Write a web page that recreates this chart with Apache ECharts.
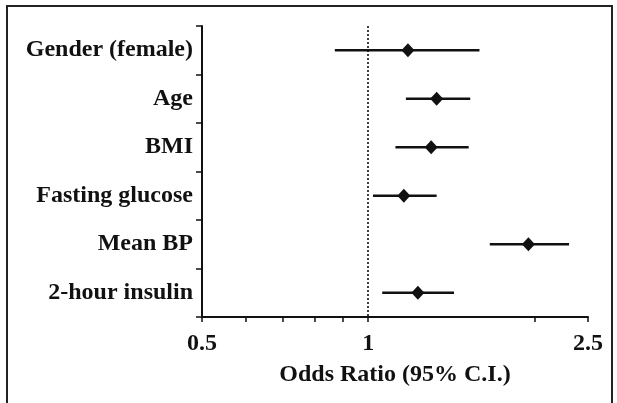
<!DOCTYPE html>
<html>
<head>
<meta charset="utf-8">
<script src="https://cdn.jsdelivr.net/npm/echarts@6/dist/echarts.min.js"></script>
<style>
  html, body { margin: 0; padding: 0; background: #fff; }
  #chart { width: 617px; height: 403px; }
</style>
</head>
<body>
<div id="chart"></div>
<script>
// 变量名称（从上到下）
var factors = ['Gender (female)', 'Age', 'BMI', 'Fasting glucose', 'Mean BP', '2-hour insulin'];
// 比值比及 95% 置信区间
var oddsRatio = [1.18, 1.33, 1.30, 1.16, 1.95, 1.23];
var ciLow = [0.87, 1.17, 1.12, 1.02, 1.66, 1.06];
var ciHigh = [1.59, 1.53, 1.52, 1.33, 2.31, 1.43];
// 刻度
var tickValues = [0.5, 0.6, 0.7, 0.8, 0.9, 1, 2, 2.5];
var labelValues = [0.5, 1, 2.5];

var ink = '#111';
var font = '"Liberation Serif", "Times New Roman", serif';

var ciData = factors.map(function (f, i) { return [ciLow[i], ciHigh[i], f]; });
var pointData = factors.map(function (f, i) { return [oddsRatio[i], f]; });

var option = {
    animation: false,
    backgroundColor: '#fff',
    grid: { left: 202, right: 29, top: 26, bottom: 86 },
    xAxis: {
        type: 'log',
        logBase: 10,
        min: 0.5,
        max: 2.5,
        name: 'Odds Ratio (95% C.I.)',
        nameLocation: 'middle',
        nameGap: 46,
        nameTextStyle: { color: ink, fontSize: 24, fontWeight: 'bold', fontFamily: font },
        axisLine: { show: true, lineStyle: { color: ink, width: 2 } },
        axisTick: { show: true, length: 5, customValues: tickValues, lineStyle: { color: ink, width: 1.5 } },
        axisLabel: {
            customValues: labelValues,
            margin: 15,
            color: ink, fontSize: 24, fontWeight: 'bold', fontFamily: font,
            formatter: function (v) { return String(v); }
        },
        splitLine: { show: false },
        minorTick: { show: false }
    },
    yAxis: {
        type: 'category',
        data: factors,
        inverse: true,
        boundaryGap: true,
        axisLine: { show: true, lineStyle: { color: ink, width: 2 } },
        axisTick: { show: true, length: 6, interval: 0, lineStyle: { color: ink, width: 1.5 } },
        axisLabel: { margin: 9, color: ink, fontSize: 24, fontWeight: 'bold', fontFamily: font },
        splitLine: { show: false }
    },
    graphic: [{
        type: 'rect',
        shape: { x: 7, y: 6, width: 605, height: 430 },
        style: { fill: 'none', stroke: '#222', lineWidth: 2 },
        silent: true
    }],
    series: [
        {
            type: 'custom',
            data: ciData,
            dimensions: [
                { name: 'low', type: 'float' },
                { name: 'high', type: 'float' },
                { name: 'factor', type: 'ordinal' }
            ],
            encode: { x: ['low', 'high'], y: 'factor' },
            renderItem: function (params, api) {
                var cat = api.value(2);
                var a = api.coord([api.value(0), cat]);
                var b = api.coord([api.value(1), cat]);
                return {
                    type: 'line',
                    shape: { x1: a[0], y1: a[1], x2: b[0], y2: b[1] },
                    style: { stroke: ink, lineWidth: 2.5 }
                };
            },
            z: 2
        },
        {
            type: 'scatter',
            data: pointData,
            symbol: 'diamond',
            symbolSize: [13, 14],
            itemStyle: { color: ink, opacity: 1 },
            markLine: {
                silent: true,
                symbol: 'none',
                label: { show: false },
                lineStyle: { type: [2, 2], color: '#000', width: 1.5 },
                data: [{ xAxis: 1 }]
            },
            z: 3
        }
    ]
};

var myChart = echarts.init(document.getElementById('chart'));
myChart.setOption(option);
</script>
</body>
</html>
